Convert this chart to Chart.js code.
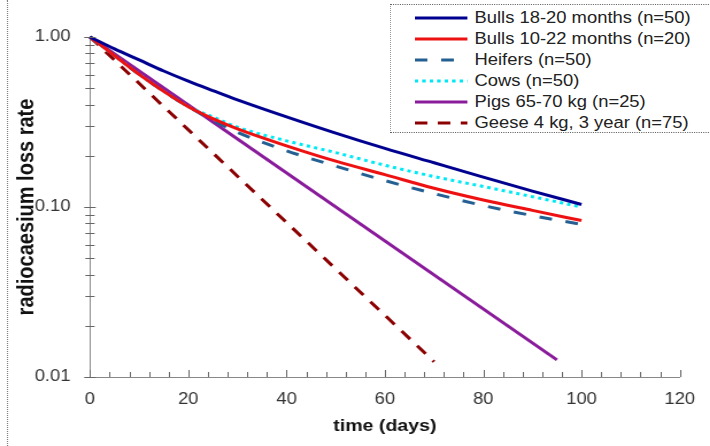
<!DOCTYPE html>
<html>
<head>
<meta charset="utf-8">
<script src="https://cdn.jsdelivr.net/npm/chart.js@4/dist/chart.umd.min.js"></script>
<style>
  html, body { margin: 0; padding: 0; background: #fff; }
  body { width: 710px; height: 446px; overflow: hidden; position: relative; }
  /* the reference looks horizontally stretched, so draw narrow and stretch */
  #wrap { position: absolute; left: 0; top: 0; width: 618px; height: 446px;
          transform: scaleX(1.149); transform-origin: 0 0; }
  #frame { position: absolute; left: 6px; top: 0; height: 446px; border-left: 1px dotted #777; }
  #legend { position: absolute; left: 339px; top: 4px; width: 330px; height: 127px;
            border: 1px dotted #666; background: #fff;
            font: 16px "Liberation Sans", Arial, sans-serif; color: #222; }
  .row { position: absolute; left: 0; height: 20px; line-height: 20px; white-space: nowrap; }
  .row svg { position: absolute; left: 21px; top: 0; }
  .row span { position: absolute; left: 73px; top: 0; }
</style>
</head>
<body>
<div id="wrap">
  <canvas id="lossChart" width="618" height="446"></canvas>
  <div id="frame"></div>
  <div id="legend"></div>
</div>
<script>
// days after start
const days = [0, 5, 10, 15, 20, 25, 30, 40, 50, 60, 70, 80, 90, 100];
const bulls1820 = [1, 0.851, 0.733, 0.631, 0.550, 0.484, 0.427, 0.339, 0.272, 0.221, 0.182, 0.150, 0.124, 0.1035];
const bulls1022 = [1, 0.776, 0.603, 0.479, 0.389, 0.331, 0.288, 0.229, 0.186, 0.155, 0.129, 0.110, 0.0955, 0.0832];
const heifers = [1, 0.776, 0.603, 0.479, 0.389, 0.324, 0.275, 0.214, 0.174, 0.143, 0.120, 0.102, 0.089, 0.079];
const cows = [1, 0.776, 0.603, 0.479, 0.389, 0.339, 0.295, 0.245, 0.209, 0.176, 0.151, 0.132, 0.115, 0.100];
const pigDays = [0, 95];
const pigs = [1, 0.0126];
const geeseDays = [0, 70];
const geese = [1, 0.0123];

const xTicks = [0, 20, 40, 60, 80, 100, 120];
const yTicks = [0.01, 0.1, 1];

function pts(xs, ys) {
  return xs.map(function(x, i) { return {x: x, y: ys[i]}; });
}

const seriesInfo = [
  {label: 'Bulls 18-20 months (n=50)', data: pts(days, bulls1820), color: '#000090', dash: []},
  {label: 'Bulls 10-22 months (n=20)', data: pts(days, bulls1022), color: '#ee1111', dash: []},
  {label: 'Heifers (n=50)', data: pts(days, heifers), color: '#245f92', dash: [11, 12]},
  {label: 'Cows (n=50)', data: pts(days, cows), color: '#00e8f4', dash: [3, 3.5]},
  {label: 'Pigs 65-70 kg (n=25)', data: pts(pigDays, pigs), color: '#8a1c9c', dash: []},
  {label: 'Geese 4 kg, 3 year (n=75)', data: pts(geeseDays, geese), color: '#8b0000', dash: [11, 9]}
];

// small tick marks on both axes (minor ticks are not built into chart.js)
const axisTicks = {
  id: 'axisTicks',
  afterDraw(chart) {
    const ctx = chart.ctx;
    const xs = chart.scales.x, ys = chart.scales.y;
    const x0 = xs.left, yb = ys.bottom;
    ctx.save();
    ctx.strokeStyle = '#666';
    ctx.lineWidth = 1;
    ctx.beginPath();
    [0.01, 0.1].forEach(function(dec) {
      for (let m = 1; m <= 9; m++) {
        const py = Math.round(ys.getPixelForValue(m * dec)) + 0.5;
        const len = m === 1 ? 5 : 4;
        ctx.moveTo(x0 - len, py); ctx.lineTo(x0 + len, py);
      }
    });
    const top = Math.round(ys.getPixelForValue(1)) + 0.5;
    ctx.moveTo(x0 - 5, top); ctx.lineTo(x0 + 5, top);
    for (let d = 0; d <= 120; d += 4) {
      const px = Math.round(xs.getPixelForValue(d)) + 0.5;
      const len = d % 20 === 0 ? 7 : 5;
      ctx.moveTo(px, yb); ctx.lineTo(px, yb - len);
    }
    ctx.stroke();
    ctx.restore();
  }
};

const ctx = document.getElementById('lossChart').getContext('2d');
const lossChart = new Chart(ctx, {
  type: 'line',
  data: {
    datasets: seriesInfo.map(function(s) {
      return {
        label: s.label,
        data: s.data,
        borderColor: s.color,
        backgroundColor: s.color,
        borderWidth: 3,
        borderDash: s.dash,
        pointRadius: 0,
        fill: false,
        clip: false,
        cubicInterpolationMode: 'monotone'
      };
    })
  },
  options: {
    responsive: false,
    animation: false,
    events: [],
    layout: { padding: { left: 0, right: 21.5, top: 37, bottom: 0 } },
    plugins: { legend: { display: false }, tooltip: { enabled: false } },
    scales: {
      x: {
        type: 'linear',
        min: 0, max: 120,
        afterBuildTicks: function(scale) { scale.ticks = xTicks.map(function(v) { return {value: v}; }); },
        afterFit: function(scale) { scale.height = 69; },
        grid: { display: false, drawTicks: false },
        border: { display: true, color: '#888', width: 1 },
        ticks: { padding: 13, color: '#333', font: { family: '"Liberation Sans", Arial', size: 16 } },
        title: { display: true, text: 'time (days)', color: '#111', padding: { top: 0, bottom: 9 },
                 font: { family: '"Liberation Sans", Arial', size: 17, weight: 'bold' } }
      },
      y: {
        type: 'logarithmic',
        min: 0.01, max: 1,
        afterBuildTicks: function(scale) { scale.ticks = yTicks.map(function(v) { return {value: v}; }); },
        afterFit: function(scale) { scale.width = 78.3; },
        grid: { display: false, drawTicks: false },
        border: { display: true, color: '#888', width: 1 },
        ticks: { padding: 17, color: '#333', font: { family: '"Liberation Sans", Arial', size: 16 },
                 callback: function(v) { return Number(v).toFixed(2); } },
        title: { display: true, text: 'radiocaesium loss rate', color: '#111', padding: { top: 11, bottom: 0 },
                 font: { family: '"Liberation Sans", Arial', size: 20, weight: 'bold' } }
      }
    }
  },
  plugins: [axisTicks]
});

// legend box in the top right corner
const legend = document.getElementById('legend');
seriesInfo.forEach(function(s, i) {
  const row = document.createElement('div');
  row.className = 'row';
  row.style.top = (3 + i * 21) + 'px';
  row.style.width = '330px';
  row.innerHTML = '<svg width="46" height="20"><line x1="0" y1="10" x2="46" y2="10" stroke="' + s.color +
    '" stroke-width="3" stroke-dasharray="' + (s.dash.length ? s.dash.join(' ') : 'none') + '"/></svg>' +
    '<span>' + s.label + '</span>';
  legend.appendChild(row);
});
</script>
</body>
</html>
